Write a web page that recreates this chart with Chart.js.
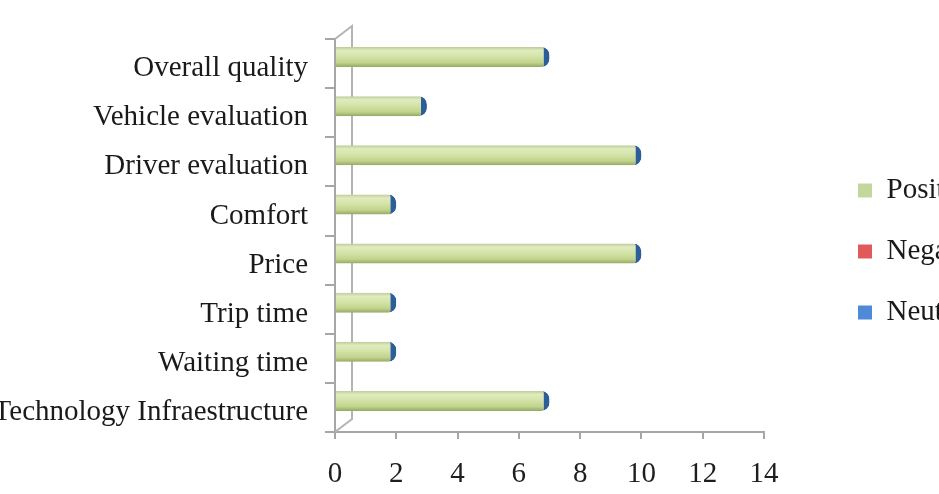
<!DOCTYPE html>
<html>
<head>
<meta charset="utf-8">
<script src="https://cdn.jsdelivr.net/npm/chart.js@4/dist/chart.umd.min.js"></script>
<style>
html,body{margin:0;padding:0;background:#ffffff;overflow:hidden}
#wrap{width:939px;height:494px;position:relative;overflow:hidden}
</style>
</head>
<body>
<div id="wrap"><canvas id="c" width="939" height="494"></canvas></div>
<script>
// ---- data (top to bottom as displayed) ----
const categories = [
  'Overall quality',
  'Vehicle evaluation',
  'Driver evaluation',
  'Comfort',
  'Price',
  'Trip time',
  'Waiting time',
  'Technology Infraestructure'
];
const seriesNames = ['Positive', 'Negative', 'Neutral'];
const positiveValues = [7, 3, 10, 2, 10, 2, 2, 7];
const negativeValues = [0, 0, 0, 0, 0, 0, 0, 0];
const neutralValues  = [0, 0, 0, 0, 0, 0, 0, 0];
const xTickMin = 0;
const xTickMax = 14;
const xTickStep = 2;

// ---- styles ----
const legendColors = ['#c3d69b', '#e05a5a', '#4f8ad8'];
const CAT_PCT = 0.4;
const BAR_PCT = 3.05;
const LEGEND_W = 175;
const LEGEND_SHIFT_X = 62;
const LEGEND_SHIFT_Y = -15;
const axisGray = '#a6a6a6';

function cylinderFill(ctx) {
  const chart = ctx.chart;
  const y = chart.scales && chart.scales.y;
  if (!y || ctx.type !== 'data') return legendColors[0];
  const p0 = y.getPixelForValue(0), p1 = y.getPixelForValue(1);
  const step = Math.abs(p1 - p0);
  const c = y.getPixelForValue(ctx.dataIndex) - step * CAT_PCT / 3;
  const h = step * CAT_PCT / 3 * BAR_PCT / 2;
  if (!isFinite(c) || !isFinite(h) || h <= 0) return legendColors[0];
  const g = chart.ctx.createLinearGradient(0, c - h, 0, c + h);
  g.addColorStop(0, '#bccb98');
  g.addColorStop(0.18, '#e0ebbf');
  g.addColorStop(0.45, '#d5e4a9');
  g.addColorStop(0.78, '#c2d48c');
  g.addColorStop(1, '#95a866');
  return g;
}

const legendFit = {
  id: 'legendFit',
  beforeInit(chart) {
    const orig = chart.legend.fit;
    chart.legend.fit = function () {
      orig.call(this);
      this.width = LEGEND_W;
    };
  },
  afterLayout(chart) {
    const l = chart.legend;
    l.left += LEGEND_SHIFT_X;
    l.right += LEGEND_SHIFT_X;
    l.top += LEGEND_SHIFT_Y;
    l.bottom += LEGEND_SHIFT_Y;
  }
};

const backWall = {
  id: 'backWall',
  beforeDatasetsDraw(chart) {
    const {left, top, bottom} = chart.chartArea;
    const c = chart.ctx;
    c.save();
    c.strokeStyle = '#b4b4b4';
    c.lineWidth = 2;
    c.beginPath();
    c.moveTo(left, top);
    c.lineTo(left + 17, top - 13);
    c.lineTo(left + 17, bottom - 13);
    c.lineTo(left, bottom);
    c.stroke();
    c.restore();
  }
};

new Chart(document.getElementById('c').getContext('2d'), {
  type: 'bar',
  data: {
    labels: categories,
    datasets: [
      {
        label: seriesNames[0],
        data: positiveValues,
        backgroundColor: cylinderFill,
        borderColor: '#2c5e98',
        borderWidth: {top: 0, bottom: 0, left: 0, right: 6},
        borderRadius: {topLeft: 0, bottomLeft: 0, topRight: 8, bottomRight: 8},
        borderSkipped: false
      },
      {
        label: seriesNames[1],
        data: negativeValues,
        backgroundColor: legendColors[1],
        borderWidth: 0
      },
      {
        label: seriesNames[2],
        data: neutralValues,
        backgroundColor: legendColors[2],
        borderWidth: 0
      }
    ]
  },
  options: {
    indexAxis: 'y',
    responsive: false,
    animation: false,
    datasets: { bar: { categoryPercentage: CAT_PCT, barPercentage: BAR_PCT } },
    layout: { padding: { left: 0, right: 0, top: 39, bottom: 0 } },
    scales: {
      x: {
        min: xTickMin,
        max: xTickMax,
        ticks: {
          stepSize: xTickStep,
          font: { family: 'Liberation Serif', size: 29 },
          color: '#1e1e1e',
          padding: 18
        },
        grid: { drawOnChartArea: false, drawTicks: true, tickLength: 7, color: axisGray, lineWidth: 2 },
        border: { color: axisGray, width: 2 },
        afterFit(s) { s.height = 62; }
      },
      y: {
        ticks: {
          font: { family: 'Liberation Serif', size: 29 },
          color: '#1a1a1a',
          padding: 17,
          labelOffset: 5,
          autoSkip: false
        },
        grid: { drawOnChartArea: false, tickLength: 10, color: axisGray, lineWidth: 2, offset: true },
        border: { color: axisGray, width: 2 },
        afterFit(s) { s.width = 335; }
      }
    },
    plugins: {
      legend: {
        position: 'right',
        align: 'center',
        labels: {
          font: { family: 'Liberation Serif', size: 29 },
          color: '#1a1a1a',
          boxWidth: 14,
          boxHeight: 14,
          padding: 32,
          generateLabels(chart) {
            const items = Chart.defaults.plugins.legend.labels.generateLabels(chart);
            items.forEach((it, i) => {
              it.fillStyle = legendColors[i];
              it.strokeStyle = legendColors[i];
              it.lineWidth = 0;
            });
            return items;
          }
        }
      },
      tooltip: { enabled: false }
    }
  },
  plugins: [legendFit, backWall]
});
</script>
</body>
</html>
